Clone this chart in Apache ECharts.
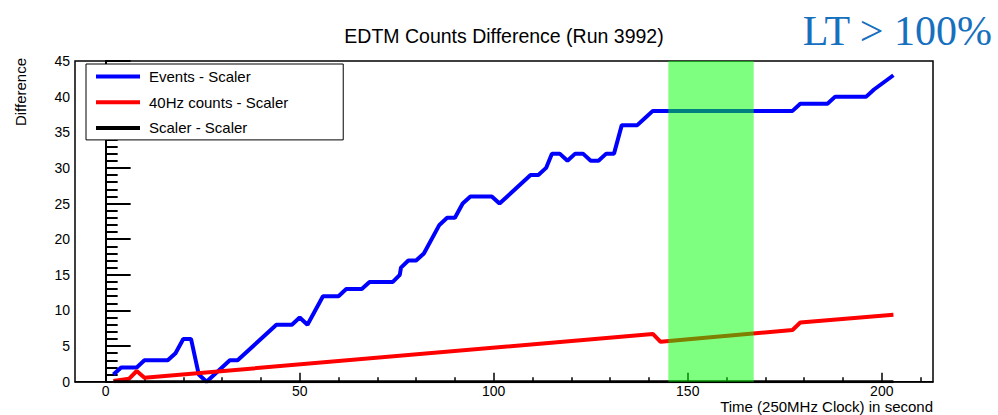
<!DOCTYPE html>
<html>
<head>
<meta charset="utf-8">
<script src="https://cdn.jsdelivr.net/npm/echarts@6/dist/echarts.min.js"></script>
<style>
  html, body { margin: 0; padding: 0; background: #fff; }
  #chart { width: 998px; height: 415px; }
</style>
</head>
<body>
<div id="chart"></div>
<script>
// Events - Scaler difference vs. time
const eventsTime = [2, 4, 8, 10, 16, 18, 20, 22, 24, 26, 32, 34, 44, 48, 50, 52, 56, 60, 62, 66, 68, 74, 75.8, 76.1, 78, 80, 82, 86, 88, 90, 92, 94, 99.5, 101.5, 109.5, 111.5, 113.5, 115, 117, 119, 121, 123, 125, 127, 129, 131, 133, 137, 139, 141, 177, 179, 186, 188, 196, 198, 203];
const eventsDiff = [1, 2, 2, 3, 3, 4, 6, 6, 1, 0, 3, 3, 8, 8, 9, 8, 12, 12, 13, 13, 14, 14, 15, 16, 17, 17, 18, 22, 23, 23, 25, 26, 26, 25, 29, 29, 30, 32, 32, 31, 32, 32, 31, 31, 32, 32, 36, 36, 37, 38, 38, 39, 39, 40, 40, 41, 43];

// 40Hz counts - Scaler difference vs. time
const hzTime = [2, 6, 8, 10, 141, 143, 177, 179, 203];
const hzDiff = [0.1, 0.4, 1.5, 0.55, 6.7, 5.6, 7.25, 8.3, 9.4];

// Scaler - Scaler (identically zero)
const scalerTime = [2, 203];
const scalerDiff = [0, 0];

// highlighted time window
const bandStart = 145;
const bandEnd = 167;

// axis ticks
const xMajorTicks = [0, 50, 100, 150, 200];
const xMinorTicks = [10, 20, 30, 40, 60, 70, 80, 90, 110, 120, 130, 140, 160, 170, 180, 190, 210];

const titleText = 'EDTM Counts Difference (Run 3992)';
const noteText = 'LT > 100%';
const xTitle = 'Time (250MHz Clock) in second';
const yTitle = 'Difference';
const seriesNames = ['Events - Scaler', '40Hz counts - Scaler', 'Scaler - Scaler'];

const zip = (xs, ys) => xs.map((x, i) => [x, ys[i]]);

const FONT = 'Liberation Sans, Arial, sans-serif';
const X_MIN = -7.9, X_MAX = 213.2;

const chart = echarts.init(document.getElementById('chart'), null, { renderer: 'svg' });

chart.setOption({
  animation: false,
  backgroundColor: '#fff',
  grid: {
    left: 75, right: 65, top: 61, bottom: 33.3,
    show: true, borderColor: '#000', borderWidth: 1.5, backgroundColor: 'transparent'
  },
  legend: {
    data: seriesNames,
    orient: 'vertical',
    left: 86, top: 64,
    icon: 'rect',
    itemWidth: 44, itemHeight: 4,
    itemGap: 9.7,
    padding: [4.5, 55, 4, 10],
    backgroundColor: '#fff',
    borderColor: '#000', borderWidth: 1,
    textStyle: { fontFamily: FONT, fontSize: 15, color: '#000', lineHeight: 16, padding: [0, 0, 0, 4] }
  },
  xAxis: [
    {
      type: 'value', min: X_MIN, max: X_MAX,
      axisLine: { show: true, lineStyle: { color: '#000', width: 1.5 } },
      axisTick: { show: true, inside: true, length: 9, customValues: xMajorTicks, lineStyle: { color: '#000', width: 1.5 } },
      axisLabel: { show: true, customValues: xMajorTicks, margin: 2, color: '#000', fontFamily: FONT, fontSize: 14 },
      splitLine: { show: false }
    },
    {
      type: 'value', min: X_MIN, max: X_MAX, position: 'bottom',
      axisLine: { show: false },
      axisTick: { show: true, inside: true, length: 4.5, customValues: xMinorTicks, lineStyle: { color: '#000', width: 1.5 } },
      axisLabel: { show: false },
      splitLine: { show: false }
    }
  ],
  yAxis: {
    type: 'value', min: 0, max: 45, interval: 5,
    axisLine: { show: true, lineStyle: { color: '#000', width: 2 } },
    axisTick: { show: true, inside: true, length: 25, lineStyle: { color: '#000', width: 2 } },
    minorTick: { show: true, splitNumber: 5, length: 12, lineStyle: { color: '#000', width: 2 } },
    axisLabel: { margin: 5, color: '#000', fontFamily: FONT, fontSize: 14 },
    splitLine: { show: false }
  },
  series: [
    {
      name: seriesNames[0], type: 'line', z: 2,
      data: zip(eventsTime, eventsDiff),
      showSymbol: false, symbol: 'none',
      color: '#0000ff',
      lineStyle: { color: '#0000ff', width: 4 }
    },
    {
      name: seriesNames[1], type: 'line', z: 2,
      data: zip(hzTime, hzDiff),
      showSymbol: false, symbol: 'none',
      color: '#ff0000',
      lineStyle: { color: '#ff0000', width: 4 }
    },
    {
      name: seriesNames[2], type: 'line', z: 2,
      data: zip(scalerTime, scalerDiff),
      showSymbol: false, symbol: 'none',
      color: '#000000',
      lineStyle: { color: '#000000', width: 3 }
    },
    {
      // translucent window drawn over the curves and the axis ticks
      name: 'window', type: 'custom', z: 10, silent: true,
      xAxisIndex: 0, yAxisIndex: 0,
      data: [[bandStart, bandEnd]],
      encode: { x: [0, 1] },
      renderItem: function (params, api) {
        const x0 = api.coord([api.value(0), 0])[0];
        const x1 = api.coord([api.value(1), 0])[0];
        const cs = params.coordSys;
        return {
          type: 'rect',
          shape: { x: x0, y: cs.y, width: x1 - x0, height: cs.height },
          style: { fill: 'rgba(0,255,0,0.5)' }
        };
      }
    }
  ],
  graphic: [
    {
      type: 'text', x: 504, y: 36, z: 20,
      style: { text: titleText, fill: '#000', font: '19.5px ' + FONT, textAlign: 'center', textVerticalAlign: 'middle' }
    },
    {
      type: 'text', x: 992, y: 31, z: 20,
      style: { text: noteText, fill: '#1670be', font: '42px Liberation Serif, Times New Roman, serif', textAlign: 'right', textVerticalAlign: 'middle' }
    },
    {
      type: 'text', x: 933, y: 406, z: 20,
      style: { text: xTitle, fill: '#000', font: '15px ' + FONT, textAlign: 'right', textVerticalAlign: 'middle' }
    },
    {
      type: 'text', x: 20, y: 58, rotation: Math.PI / 2, z: 20,
      style: { text: yTitle, fill: '#000', font: '15px ' + FONT, textAlign: 'right', textVerticalAlign: 'middle' }
    }
  ]
});
</script>
</body>
</html>
